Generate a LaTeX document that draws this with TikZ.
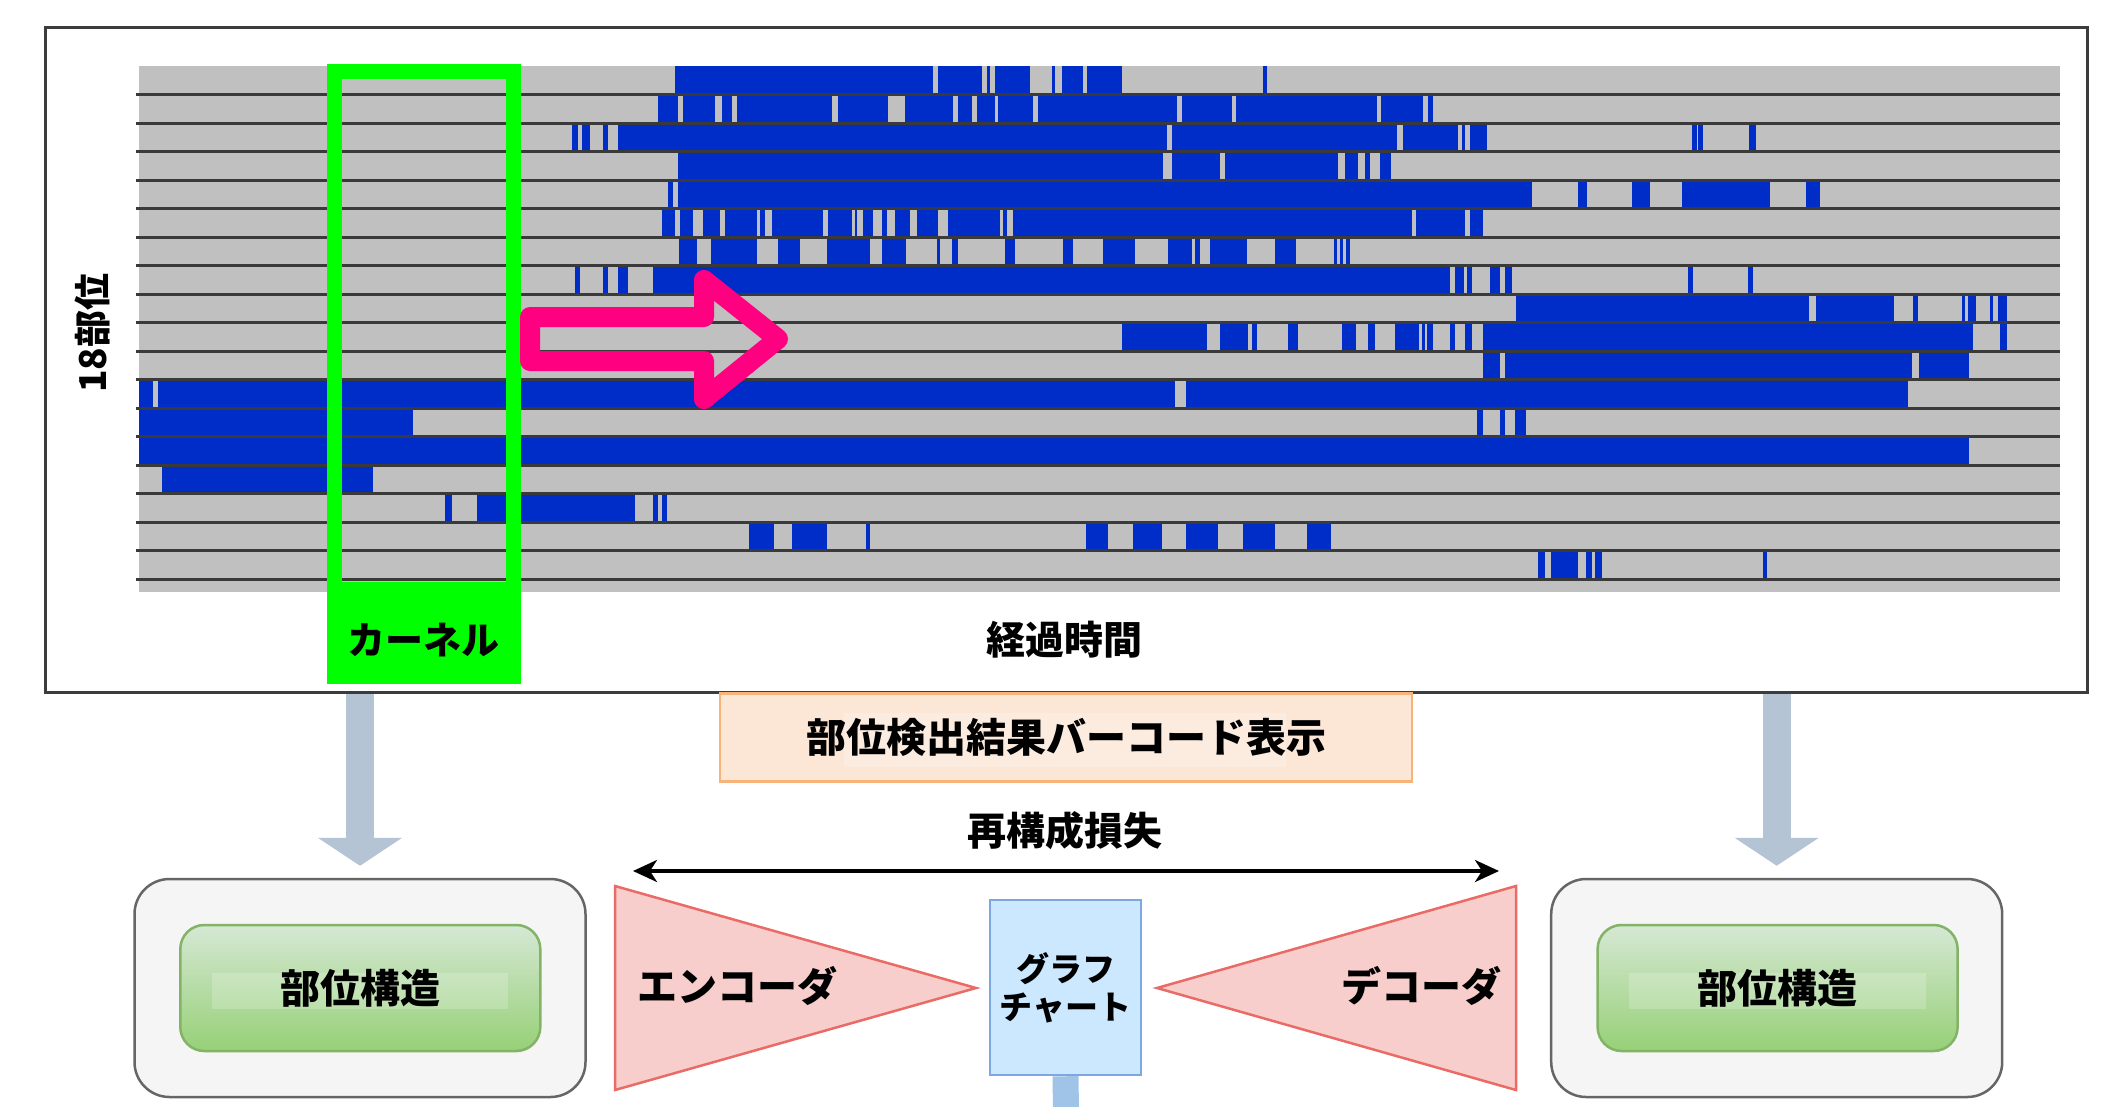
\documentclass[tikz,border=0pt]{standalone}
\usepackage{fontspec}
\setmainfont{Noto Sans CJK JP}
\usetikzlibrary{arrows.meta}
\definecolor{barblue}{RGB}{0,45,200}
\definecolor{bargray}{RGB}{192,192,192}
\definecolor{divc}{RGB}{58,58,58}
\definecolor{kgreen}{RGB}{0,255,0}
\definecolor{pinkc}{RGB}{255,0,128}
\definecolor{framec}{RGB}{60,60,60}
\definecolor{orfill}{RGB}{252,230,214}
\definecolor{ordraw}{RGB}{248,180,120}
\definecolor{trifill}{RGB}{248,206,204}
\definecolor{tridraw}{RGB}{234,107,102}
\definecolor{gfill}{RGB}{204,232,255}
\definecolor{gdraw}{RGB}{126,166,224}
\definecolor{gbar}{RGB}{160,196,232}
\definecolor{garrowc}{RGB}{180,196,212}
\definecolor{obfill}{RGB}{245,245,245}
\definecolor{obdraw}{RGB}{102,102,102}
\definecolor{igtop}{RGB}{213,232,212}
\definecolor{igbot}{RGB}{151,208,119}
\definecolor{igdraw}{RGB}{130,179,102}
\newcommand\bcrow[2]{\foreach \a/\b in {#2}{\fill[barblue] (\a,{66+28.5*(#1-1)}) rectangle (\b,{66+28.5*#1});}}
\begin{document}
\begin{tikzpicture}[x=1pt,y=-1pt,
  lbl/.style={inner sep=0pt, font=\fontsize{40}{46}\selectfont\bfseries},
  garrow/.style={line width=28pt, draw=garrowc, -{Triangle[width=83pt,length=28pt]}, shorten >=12pt},
  outerbox/.style={draw=obdraw, fill=obfill, line width=2.5pt, rounded corners=35pt, minimum width=451pt, minimum height=218pt, inner sep=0pt},
  innerbox/.style={draw=igdraw, top color=igtop, bottom color=igbot, line width=2.5pt, rounded corners=24pt, minimum width=360pt, minimum height=126pt, inner sep=0pt},
  tri/.style={draw=tridraw, fill=trifill, line width=2.5pt, line join=miter},
  divider/.style={draw=divc, line width=3pt}]
\useasboundingbox (0,0) rectangle (2106,1106);
\fill[white] (0,0) rectangle (2106,1106);
% frame
\node[draw=framec, fill=white, line width=3pt, minimum width=2042pt, minimum height=665pt, inner sep=0pt] (frame) at (1066,359.5) {};
% barcode background
\fill[bargray] (138.5,66) rectangle (2059.5,592);
\bcrow{1}{675/933,938/982,987/990,995/1030,1052/1055,1062/1083,1087/1122,1263/1267}
\bcrow{2}{658/678,683/715,722/732,737/832,838/888,905/953,958/972,977/995,998/1033,1038/1177,1182/1232,1236/1377,1381/1423,1428/1433}
\bcrow{3}{572/578,582/590,603/608,618/1167,1172/1397,1403/1458,1462/1465,1470/1487,1692/1697,1698/1703,1749/1756}
\bcrow{4}{678/1163,1172/1220,1225/1338,1345/1358,1365/1370,1380/1391}
\bcrow{5}{668/673,678/1532,1578/1587,1632/1650,1682/1770,1806/1820}
\bcrow{6}{662/675,680/693,703/720,725/757,760/765,772/823,828/852,855/857,863/873,882/887,895/910,917/938,948/1000,1003/1007,1013/1412,1416/1465,1470/1483}
\bcrow{7}{679/697,711/757,778/800,827/870,882/906,937/940,952/958,1005/1015,1063/1073,1103/1135,1168/1192,1195/1200,1210/1247,1275/1296,1334/1337,1340/1343,1346/1350}
\bcrow{8}{575/580,603/608,618/628,653/1450,1455/1464,1467/1472,1490/1500,1505/1512,1688/1693,1748/1753}
\bcrow{9}{1516/1809,1816/1894,1913/1918,1962/1965,1968/1976,1990/1993,1998/2007}
\bcrow{10}{1122/1207,1220/1248,1252/1257,1288/1298,1342/1356,1368/1375,1395/1419,1422/1425,1427/1433,1450/1455,1465/1472,1483/1973,2000/2007}
\bcrow{11}{1483/1500,1505/1912,1919/1969}
\bcrow{12}{138.5/153,158/1175,1186/1908}
\bcrow{13}{138.5/413,1477/1483,1500/1505,1515/1526}
\bcrow{14}{138.5/1969}
\bcrow{15}{162/373}
\bcrow{16}{445/452,477/635,653/658,662/667}
\bcrow{17}{749/774,792/827,866/870,1086/1108,1133/1162,1186/1218,1243/1275,1307/1331}
\bcrow{18}{1538/1545,1551/1578,1586/1592,1595/1602,1763/1767}
\foreach \i in {1,...,18} \draw[divider] (136,{66+28.5*\i}) -- (2060,{66+28.5*\i});
% kernel window
\draw[draw=kgreen, line width=15pt] (334.5,71.5) rectangle (513.3,590);
\fill[kgreen] (327,582) rectangle (520.8,684);
\node[lbl, font=\fontsize{38}{44}\selectfont\bfseries] (kernel) at (423.8,640) {カーネル};
% pink arrow
\draw[draw=pinkc, line width=20pt, line join=round] (530,317) -- (704,317) -- (704,280) -- (778,339) -- (704,399) -- (704,361) -- (530,361) -- cycle;
% axis labels
\node[lbl, font=\fontsize{37}{44}\selectfont\bfseries, rotate=90] (parts) at (92,333) {18部位};
\node[lbl, font=\fontsize{39}{45}\selectfont\bfseries] (elapsed) at (1064,640) {経過時間};
% caption box
\node[draw=ordraw, fill=orfill, line width=2.5pt, minimum width=692pt, minimum height=88pt, inner sep=0pt] (caption) at (1066,737.5) {};
\fill[white, opacity=0.25] (844,713) rectangle (1286,767);
\node[lbl] (captext) at (caption.center) {部位検出結果バーコード表示};
% reconstruction loss
\coordinate (rl) at (633,871);
\coordinate (rr) at (1499,871);
\draw[line width=3.5pt, {Stealth[length=24pt,width=22pt,inset=7pt]}-{Stealth[length=24pt,width=22pt,inset=7pt]}] (rl) -- (rr);
\node[lbl, font=\fontsize{39}{45}\selectfont\bfseries] (loss) at (1065,831) {再構成損失};
% encoder / decoder
\draw[tri] (615,886) -- (976,988) -- (615,1090) -- cycle;
\node[lbl] (enc) at (737,986) {エンコーダ};
\draw[tri] (1516,886) -- (1157,988) -- (1516,1090) -- cycle;
\node[lbl] (dec) at (1421,986) {デコーダ};
% graph chart
\node[draw=gdraw, fill=gfill, line width=2.5pt, minimum width=151pt, minimum height=175pt, inner sep=0pt, align=center, font=\fontsize{33}{38}\selectfont\bfseries] (graph) at (1065.5,987.5) {グラフ\\チャート};
\coordinate (gend) at (1066,1112);
\draw[draw=gbar, line width=26pt] (graph.south) -- (gend);
% structure boxes
\node[outerbox] (lout) at (360,988) {};
\node[innerbox] (lin) at (360.3,988) {};
\fill[white, opacity=0.2] (211.5,972.7) rectangle (508.4,1009);
\node[lbl] (ltext) at (lin.center) {部位構造};
\node[outerbox] (rout) at (1776.7,988) {};
\node[innerbox] (rin) at (1777.6,988) {};
\fill[white, opacity=0.2] (1629,972.7) rectangle (1926,1009);
\node[lbl] (rtext) at (rin.center) {部位構造};
% thick arrows
\draw[garrow] (lout.north |- frame.south) -- (lout.north);
\draw[garrow] (rout.north |- frame.south) -- (rout.north);
\end{tikzpicture}
\end{document}
